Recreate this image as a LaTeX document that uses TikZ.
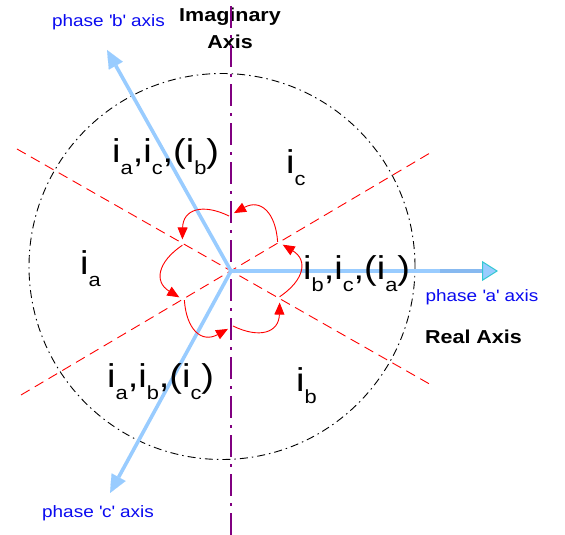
\documentclass[tikz,border=0pt]{standalone}
\usepackage{fontspec}
\setmainfont{Liberation Sans}[FakeStretch=1.15]
\usetikzlibrary{arrows.meta}
\definecolor{axblue}{RGB}{153,204,255}
\definecolor{axblue2}{RGB}{135,185,240}
\definecolor{tipedge}{RGB}{51,200,210}
\definecolor{imagpurple}{RGB}{128,0,128}
\definecolor{lblblue}{RGB}{10,10,240}
\newcommand\lsb[1]{\raisebox{-12pt}{\fontsize{19}{19}\selectfont #1}}
\begin{document}
\begin{tikzpicture}[x=1pt,y=1pt,
  axisline/.style={line width=3.6pt, draw=axblue},
  phasetip/.style={-{Triangle[length=18pt,width=16pt,fill=axblue,color=axblue,line width=0.1pt]}},
  reddash/.style={draw=red, line width=0.9pt, dash pattern=on 10pt off 6pt},
  lobe/.style={draw=red, line width=0.9pt, -{Triangle[length=12pt,width=10pt]}},
  cur/.style={inner sep=0pt, anchor=base west, font=\fontsize{33}{33}\selectfont},
  phaselbl/.style={inner sep=0pt, text=lblblue, font=\fontsize{16.5}{16.5}\selectfont},
  axlbl/.style={inner sep=0pt, font=\fontsize{18.7}{27}\selectfont\bfseries, align=center}
]
\useasboundingbox (0,0) rectangle (565,535);
% key points
\coordinate (O) at (231,264);
\coordinate (C) at (222,268.5);
\coordinate (A) at (498,264);
\coordinate (A1) at (440,264);
\coordinate (A2) at (483,264);
\coordinate (B) at (107,485);
\coordinate (Cc) at (110,42);
\coordinate (imtop) at (231,535);
\coordinate (imbot) at (231,0);
\coordinate (r1a) at (17,386);
\coordinate (r1b) at (433,149);
\coordinate (r2a) at (21,140);
\coordinate (r2b) at (430,382);

% dash-dot circle
\draw[black, line width=0.9pt, dash pattern=on 8pt off 4pt on 1.5pt off 4pt] (C) circle[radius=193];

% red dashed sector lines
\draw[reddash] (r1a) -- (r1b);
\draw[reddash] (r2a) -- (r2b);

% Imaginary axis label (under the purple line)
\node[axlbl] (imag) at (230,506.5) {Imaginary\\Axis};

% imaginary axis
\draw[imagpurple, line width=2.8pt, dash pattern=on 22pt off 7pt on 3pt off 7pt] (imbot) -- (imtop);

% phase axes
\draw[axisline, phasetip] (O) -- (B);
\draw[axisline, phasetip] (O) -- (Cc);
\draw[axisline] (O) -- (A2);
\draw[line width=4.2pt, draw=axblue2] (A1) -- (A2);
\draw[line width=0.1pt, draw=axblue2, -{Triangle[length=16pt,width=20pt,fill=axblue,color=tipedge,line width=1pt]}] (A2) -- (A);

% rotation lobes
\begin{scope}[shift={(O)}]
\foreach \t in {0,60,...,300}{
  \draw[lobe] ({\t-28}:55) .. controls ({\t-7}:74) and ({\t+8}:78) .. ({\t+27}:58);
}
\end{scope}

% current labels
\node[cur] (la) at (80,260) {i\lsb{a}};
\node[cur] (lc) at (286,361) {i\lsb{c}};
\node[cur] (lacb) at (112,372) {i\lsb{a},i\lsb{c},(i\lsb{b})};
\node[cur] (lbca) at (303,255) {i\lsb{b},i\lsb{c},(i\lsb{a})};
\node[cur] (labc) at (107,147) {i\lsb{a},i\lsb{b},(i\lsb{c})};
\node[cur] (lb) at (296,143) {i\lsb{b}};

% axis labels
\node[phaselbl] (pb) at (108.5,513) {phase \textquotesingle b\textquotesingle\ axis};
\node[phaselbl] (pa) at (482,238) {phase \textquotesingle a\textquotesingle\ axis};
\node[phaselbl] (pc) at (98,22) {phase \textquotesingle c\textquotesingle\ axis};
\node[axlbl] (real) at (473.5,198) {Real Axis};
\end{tikzpicture}
\end{document}
